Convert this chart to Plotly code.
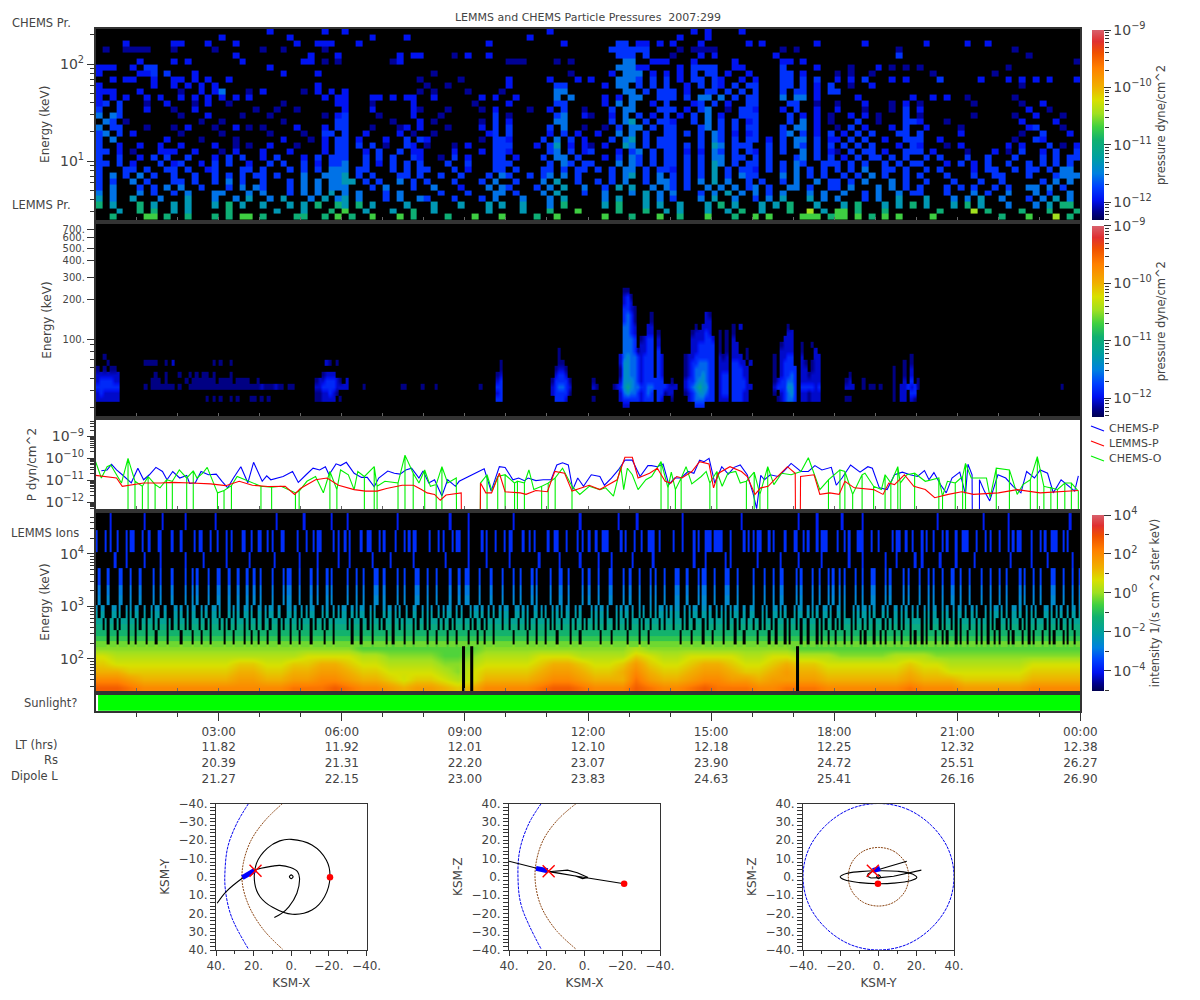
import math
import plotly.graph_objects as go

# ---------- text ----------
TITLE = "LEMMS and CHEMS Particle Pressures  2007:299"
TICK_HOURS = [3, 6, 9, 12, 15, 18, 21, 24]
TICK_TIME = ["03:00", "06:00", "09:00", "12:00", "15:00", "18:00", "21:00", "00:00"]
LT_HRS = ["11.82", "11.92", "12.01", "12.10", "12.18", "12.25", "12.32", "12.38"]
RS = ["20.39", "21.31", "22.20", "23.07", "23.90", "24.72", "25.51", "26.27"]
DIPOLE_L = ["21.27", "22.15", "23.00", "23.83", "24.63", "25.41", "26.16", "26.90"]
MINOR_HOURS = [1, 2, 4, 5, 7, 8, 10, 11, 13, 14, 16, 17, 19, 20, 22, 23]

# ---------- CHEMS pressure panel: 10-minute columns, rows top to bottom ----------
CHEMS_ENERGY = [216, 187, 162, 141, 122, 106, 92.2, 80, 69.4, 60.2, 52.2, 45.3, 39.3, 34.1, 29.6, 25.69,
                22.29, 19.34, 16.78, 14.56, 12.63, 10.96, 9.51, 8.25, 7.16, 6.21, 5.39, 4.68, 4.06, 3.52, 3.05, 2.65]
CHEMS_LEVEL_Z = [None, -12.15, -11.95, -11.8, -11.55, -11.3, -10.95, -10.7, -10.45]
CHEMS_ROWS = [
 "............ ............ .2.......2.. 2........... ............ ......2..... ............ ...2.2....2. ............ ............ ............ ............",
 "............ ......2..... ....2....... ....2....2.. ............ ...2........ ............ .2...2...... ............ ............ ............ ............",
 "....2......2 2...2...2... .....2..222. ..2......... .........2.. ........2... ....33.22.2. 2...2......2 .2.......2.. ....2....... .2.....2..2. ............",
 ".1..1111...1 .....1...... 1..1.....1.. ............ ............ ............ ...333333... .1.1111..... ....1.1..... .........1.. ............ ..1.........",
 "............ ........2... .......2...2 ........2.22 ....1.2..2.. ............ ....333.3... 1...2.2..... ...2........ .........3.. ............ ....1.......",
 "......2....2 .2.......2.. ......22.1.1 .......12... ............ 111....1.1.. .....44..222 ...2.....2.. ....22.2.... ............ ............ ...........1",
 "222..2.33... ............ .2.......... ............ ............ ............ ....44422... .2.3333..22. ....3....2.. ..1...2.1.1. 1........... .1..........",
 "2.....223.3. ..2......... ...2....2... ............ .1.......... .........1.. ...2.444.2.2 .2.3.33.2..2 ....33.2.... 1.1..1...... ..1........1 ............",
 "..2.22..2..2 2.2.2..2.... ............ ...........1 .....1...... 2.....2...2. 2...4443.3.3 .2.33.32..2. 2...33.3.3.. 2.2.3...2.2. ...3.....2.. .2.2.2.2...2",
 "2.......2..2 .2.2.2...... ........2... ............ 1..1........ 2......33... ..2.44.3.3.3 ..2.3.32.3.3 3...33.3.2.3 ..1..2...... ............ ...1........",
 "222...2..... 1..2.24...1. 2.....1.2.2. 2..........1 .1....1....1 .......44... .....44.3.33 3.2..33.3.3. 3...3.33.2.3 3........... ............ ............",
 "2.2.2..2.2.. 2.2.2.2.2.2. .........2.2 2...22.2.22. .2......2.2. .2.....4.4.. ..2.2.44..33 3.3.44.4.3.3 3...4.44.2.. ...2.......2 ..2.2..1.... ..1.........",
 "23.3...1..2. ..1.2..1.... ...1.......2 2...1.....2. .......1.... 2......33... ..2.4.4..2.3 ...23.3.2..3 3....33..1.. 1...2...1.2. 1.......1... ...1..2.....",
 "3..3...2...1 ..2........1 ..1..1...... 2...2.....21 ...1....1.2. ...1..2.3..1 ...3.44...33 3.2.34..1.33 2...2.3..2.. 2...1...1.3. 2........... ....2..1....",
 "4.43........ 1...2....1.. .1.......1.2 3....1....2. ..1.......3. 1......34..2 1..2.4.3.2.3 .2.3.4.2..33 3....3.2.2.1 ..2.2.1...3. 1.......1... ..1..2...1..",
 ".43.1....... ...1..1..... ...1.......3 3......1...2 .1......1.3. 2......44... ...3.45.3.33 2..3.4.3.3.2 3....3.4.2.1 ...3..1...33 2...1....... ...2....2...",
 "4.33...1...1 .2...1..2.1. 1....2...2.3 3...1...12.2 ...1....2.3. 3.....3.4..1 ..1.3.44.3.3 3...34.3.3.3 3...3.44.2.. 1.3.2...2.3. .2....1..... ....23...1..",
 "34.3.2...... 1.....1..... .1....1..33. 3..2....2.1. .1.......23. 3.....2.3.2. .2..4.4.3..3 3.3.3.43.2.2 3...34.3.2.3 .2.3.3...33. 3.....2..... ...1..3...2.",
 "3.4.......2. ...1....1... ...2...1.2.3 3.2...2..3.3 2.......1.33 2....3.4.3.2 ...3.45.3.33 3...3.43.3.3 3.2.3.44.3.2 2.3.3..2..33 3..2........ ..1..32.....",
 "3..2..2..2.. 2....2..1.1. .2...1...2.3 3.3.3.1..32. 1...1.2...33 3...2.35.2.2 1.2..54.3.33 3.3.3.54.333 ..3.3.43.3.3 .3.3.3...2.3 2...1.2..... .2.2...3.1.2",
 "33.2.1...222 ..2...1.2... 2...2....2.3 3..2.3..3.22 ....2...2.33 2.....34.3.2 3...2.34.3.3 3.2.2.43.3.3 2.3.3..4.3.2 1.3.33.2..33 3.2....1...2 .1.3..2.3..3",
 "3..3..2.3.3. .3...2.3.3.. 2.3...2.3.33 3..3.3.3..32 ..1.3.2...33 .2...3.44.3. ..2.3.43.3.3 3.3.3.44.33. 3.3...34.3.3 .2.3.33.3.3. .3.3...3..3. ..3...3.3.33",
 "33.3.2...3.2 3..2.3.3..2. .3.3..3.2.33 4..3.2.3.3.3 ...3..3...33 3.....3.43.3 3...4.43.3.3 3.3.3.54.3.3 3.3.3.43..33 3.3.3..3.3.3 3...2.3.2.3. .3..3.3.3.3.",
 "3...33.3..33 .3..23...33. 3...3.3.3.44 4.33...3.3.3 3...3.2...33 .3...33.3.33 .3.3.44.3.33 2.3.3.5.3.33 2.3.3.4.3.3. 3.3.4..33.3. .3.3....2.33 ..3.33.3.44.",
 "3.4.3.4.3..3 ..3..3.3.3.3 3.3...4..444 5.3.3...33.3 ..3..3...3.4 3..3.34.4.3. ...3.45.3.4. 3.3.3.5.3.43 3...4.4.3.3. .3.3.4.3..3. 3...3...3..3 3...3...3444",
 "3.3..4.3...3 3.3..3.4.3.. 3...3.4.4.44 55.3.3..4.3. 3...3...3.4. .3...4.5..3. .3.3.4..3.44 3.3.4.5.4..3 .3..3.4..4.3 3.3.4...4.3. .3...3...3.. 3.....3.4.4.",
 "3.4...3.3.4. 4..3...3.4.4 3...3.4.4.44 4...3.4...3. .4...2...4.4 3...3.4.5..4 ..3.5.5..4.4 3.3..4.4.4.3 4.3..44.3..3 3.4...4.4.3. 3...3.3.3..3 .3..44.4.3..",
 "4.4...4.3..3 .4...44...4. 4...3.4.4.5. 4.4...3.4... ..3...3...44 .3...4.5...3 ..4...4.5.4. 4...3.4.5.4. 4.3.4...4.4. .4..3.4..4.3 3...3...4.3. .4...4.3..4.",
 "5.4..5...4.. .5...4..4.5. .4.5...4.5.4 5.4...3.4..4 3...3...3.4. ..4...4.5... ..4.5...5.4. 3...4.5..4.. 3.4.5...5.4. 4...3.4..5.. .5...4.4.5.. 4...3.4.5.4.",
 "6.5...6.5..5 .5...5.6.5.. 5...5.5.6..6 5.6.5....5.. .5...5...5.5 ..5...4.6... ..5.6...5.5. .5...5.6.5.. .5.5.6...5.. .5.6...5.5.6 .5...5.6.5.. .4...4.5.66.",
 "...5..6.6..5 .5.....6.... ..5...5...6. 7..5...5..6. .5.......5.. ..5...6...7. ....6...6..5 .5...5..5.6. .5...6..8.5. 77.6...6.... ...6....8.6. ...6...6...6",
 "..6....77.6. .6...6.6.77. 6....66..6.7 .6..7...7.6. ...6...7...7 ....6..7.... ..7...6...7. .6...7...6.. 7.7....777.6 77.7.6.7.7.. ..7......... 6...7...8.6.",
]

# ---------- LEMMS pressure panel: 5-minute columns, bursts as (first column, {row: cells}) ----------
LEMMS_ENERGY = [235, 211, 190, 170.8, 153.5, 138, 124, 111.5, 100.3, 90.2, 81, 72.9, 65.5, 58.9, 53, 47.6, 42.8, 38.5, 34.6, 31.1]
LEMMS_LEVEL_Z = [None, -12.2, -12.05, -11.85, -11.6, -11.4, -11.15]
LEMMS_BURSTS = [
 (0, {11: "..1....", 12: "...1...", 13: "1.1.11.", 14: "2222222", 15: "2333322", 16: "3333333", 17: "2322222", 18: "2222222"}),
 (14, {12: "1111..1.2...........1.1..1", 14: "...1..1...1..1.1.11.1....1....", 15: "..111.1.....1.1111111.1111.1111..1",
       16: "1.1111111.1..1111111111111111111112111211.11", 18: "..................1.1.1..1.1...11.1.1"}),
 (64, {12: "...21.1...", 14: "..1222....", 15: "12233321.2", 16: "2233332222", 17: "1122321...", 18: "112222.1.."}),
 (78, {16: "1..........11....1...1............1"}),
 (117, {12: ".1", 13: ".1", 14: "12", 15: "23", 16: "33", 17: "23", 18: "33"}),
 (133, {10: "..1...", 11: "..1...", 12: "..11..", 13: ".1221.", 14: ".2332.", 15: "133331", 16: "234432", 17: "233331", 18: ".3332."}),
 (145, {15: "1", 16: "21", 18: "1"}),
 (151, {0: "...11....", 1: "...231...", 2: "...232...", 3: "...3321..", 4: "...3431..", 5: "...3431..", 6: "...4432..", 7: "...4432..",
        8: "...4443..", 9: "...4443..", 10: "...44431.", 11: "..245443.", 12: "..255443.", 13: "..155443.", 14: "..155443.",
        15: "..255543.", 16: "123565443", 17: "..245443.", 18: "..233333.", 19: "...22...."}),
 (159, {4: "...1....", 5: "...1....", 6: "..22....", 7: "..22.1..", 8: "1233.2..", 9: "2233.2..", 10: "2233.3..", 11: "2333.32.",
        12: "2333.32.", 13: "2333.32.", 14: "2333.32.", 15: "2333333.", 16: "33443333", 17: "2343.331", 18: "2333.32."}),
 (167, {15: ".1", 16: "222", 17: "22", 18: ".1"}),
 (172, {4: "......21.", 5: "......22.", 6: "...1.222.", 7: "..122232.", 8: "..2222332", 9: "..2233333", 10: "..2233333",
        11: "122333333", 12: "123344433", 13: "123444433", 14: "123445433", 15: "233455433", 16: "234565533", 17: "123455433",
        18: ".23444333", 19: "...333..."}),
 (182, {6: "....1.2...", 7: "1.1.1.....", 8: "1.1.2.....", 9: "1.1.22....", 10: "1.1.22..1.", 11: "212.222.1.", 12: "222.3322.2",
        13: "222.33322.", 14: "233.33322.", 15: "233.33332.", 16: "233.333322", 17: "233.33322.", 18: "222.33322."}),
 (198, {6: "....1..", 7: "....22.", 8: "...222.", 9: "..1222.", 10: "..2222.", 11: "1.2233.", 12: "1.2333.", 13: "1.23333",
        14: "1.23343", 15: "1233443", 16: "2333553", 17: "1.23453", 18: ".123443"}),
 (206, {9: "1..1..", 10: "1...2.", 11: "2...22", 12: "21.122", 13: "22.122", 14: "221222", 15: "222222", 16: "333323", 17: "221222", 18: "221222"}),
 (219, {14: ".1", 15: "12", 16: "222", 18: "11"}),
 (224, {15: "1..", 16: "1.11.1"}),
 (233, {11: ".....1..", 12: "...1.1..", 13: "1..1.2..", 14: "1..1.2..", 15: "1..2.3.1", 16: "1.223231", 17: "1.22.33.", 18: "1.22.21."}),
 (282, {16: "1"}),
]

# ---------- pressure time series: (hour, log10 pressure) readings ----------
CHEMS_P_T = [0.14,0.28,0.39,0.51,0.65,0.87,1.03,1.17,1.31,1.47,1.63,1.74,1.88,2.05,2.22,2.29,2.43,2.57,2.75,2.94,3.08,3.22,3.36,3.54,3.71,3.85,4.06,4.17,4.27,4.38,4.57,4.80,4.94,5.13,5.30,5.46,5.60,5.69,5.86,5.97,6.11,6.30,6.48,6.62,6.79,6.90,7.12,7.28,7.42,7.56,7.70,7.88,7.98,8.12,8.26,8.44,8.58,8.77,8.86,9.47,9.64,9.84,9.98,10.17,10.31,10.45,10.54,10.73,10.91,11.10,11.24,11.38,11.52,11.63,11.75,11.89,12.08,
 12.29,12.40,12.57,12.74,12.90,13.08,13.27,13.46,13.55,13.69,13.83,13.97,14.11,14.27,14.44,14.58,14.72,14.83,14.95,15.09,15.26,15.42,15.56,15.71,15.88,16.02,16.11,16.21,16.30,16.44,16.63,16.77,16.95,17.19,17.37,17.53,17.70,17.93,18.05,18.19,18.40,18.63,18.82,18.93,19.10,19.29,19.47,19.66,19.85,20.03,20.20,20.31,20.43,20.59,20.73,20.87,21.06,21.20,21.26,21.36,21.37,21.54,21.54,21.66,21.79,21.99,22.18,22.36,22.55,22.69,22.88,23.02,23.20,23.34,23.53,23.67,23.86,23.95]
CHEMS_P_LOG = [-10.57,-10.53,-10.27,-10.53,-10.75,-11.12,-10.45,-10.98,-10.75,-10.41,-10.60,-10.98,-10.60,-10.90,-10.78,-11.15,-11.12,-10.60,-10.75,-10.72,-11.05,-11.35,-10.90,-10.38,-11.12,-10.18,-11.05,-10.80,-10.98,-10.93,-10.83,-10.60,-11.10,-10.75,-10.45,-10.53,-10.38,-10.75,-10.25,-10.33,-10.18,-10.68,-10.87,-10.87,-11.30,-10.90,-10.58,-10.68,-10.72,-10.53,-10.45,-10.90,-10.58,-11.13,-10.98,-11.72,-10.98,-11.28,-11.05,-10.48,-11.50,-10.38,-10.42,-10.98,-10.90,-11.02,-10.90,-11.02,-10.98,-10.98,-10.30,-10.20,-10.30,-11.43,-10.90,-11.28,-10.75,
 -10.83,-11.23,-10.90,-10.53,-10.08,-10.08,-10.83,-10.33,-10.33,-10.38,-10.26,-11.20,-10.90,-10.90,-10.60,-10.68,-10.08,-10.15,-10.00,-11.13,-10.38,-10.72,-10.41,-10.30,-10.75,-11.58,-12.30,-10.78,-10.98,-10.75,-10.83,-10.60,-10.23,-10.60,-10.60,-10.33,-10.53,-10.41,-11.23,-10.90,-10.30,-10.63,-10.38,-10.45,-11.35,-11.43,-10.75,-10.63,-10.75,-10.83,-10.56,-10.98,-10.65,-11.20,-11.58,-10.90,-10.63,-11.65,-10.27,-10.75,-14,-14,-10.98,-11.50,-11.95,-10.75,-10.90,-11.28,-11.58,-10.60,-10.90,-10.53,-10.68,-11.58,-10.98,-11.20,-11.50,-10.80]

LEMMS_P_T = [0.00,0.28,0.51,0.65,0.89,1.17,1.59,1.87,2.33,2.80,3.17,3.50,3.82,4.20,4.62,4.85,4.99,5.36,5.64,5.92,6.30,6.58,6.86,7.09,7.47,7.75,7.94,8.08,8.26,8.40,8.54,8.86,8.91,8.92,9.37,9.38,9.51,9.65,9.84,9.98,10.35,10.49,10.73,11.01,11.19,11.43,11.61,12.03,12.29,
 12.43,12.71,12.90,13.08,13.22,13.50,13.69,13.88,14.02,14.16,14.29,14.53,14.72,14.95,15.06,15.18,15.46,15.74,15.88,16.07,16.21,16.39,16.58,16.86,17.05,17.06,17.17,17.18,17.51,17.65,17.89,18.12,18.26,18.49,18.96,19.19,19.33,19.47,19.71,19.94,20.22,20.45,20.78,21.11,21.39,22.00,22.46,23.02,23.95]
LEMMS_P_LOG = [-10.78,-10.86,-10.90,-11.28,-11.20,-11.13,-11.13,-11.10,-11.13,-11.17,-11.25,-11.05,-11.23,-11.29,-11.28,-11.65,-11.38,-10.98,-10.90,-11.23,-11.43,-11.50,-11.50,-11.38,-11.23,-11.23,-11.43,-11.58,-11.65,-11.92,-11.68,-11.58,-11.58,-14,-14,-11.13,-11.58,-11.58,-10.68,-11.53,-11.58,-11.65,-11.47,-11.53,-10.60,-10.68,-11.50,-11.23,-11.43,
 -11.28,-10.98,-9.95,-9.95,-10.90,-10.68,-10.45,-11.05,-11.13,-10.83,-10.90,-10.60,-10.15,-10.26,-11.35,-10.68,-10.38,-10.60,-10.83,-11.65,-11.35,-11.28,-10.90,-10.38,-10.68,-14,-14,-10.83,-10.75,-11.65,-11.58,-11.65,-11.05,-11.35,-11.43,-11.65,-11.13,-11.20,-10.75,-11.28,-11.43,-11.80,-11.65,-11.53,-11.65,-11.58,-11.43,-11.58,-11.47]

CHEMS_O_T = [0.00,0.14,0.28,0.37,0.51,0.63,0.79,0.96,1.14,1.28,1.45,1.57,1.73,1.87,2.04,2.22,2.38,2.47,2.61,2.72,2.97,3.13,3.31,3.45,3.64,3.82,4.03,4.29,4.52,4.87,4.96,5.15,5.36,5.55,5.71,5.88,5.97,6.16,6.30,6.39,6.55,6.79,6.86,7.05,7.37,7.54,7.74,7.88,8.02,8.16,8.30,8.44,8.58,8.79,8.80,9.37,9.38,9.54,9.66,9.80,9.98,10.21,10.28,10.45,10.56,10.68,10.87,11.03,11.20,11.38,11.61,11.80,12.03,
 12.29,12.43,12.62,12.80,12.87,12.96,13.08,13.22,13.41,13.55,13.78,13.95,14.03,14.13,14.27,14.39,14.53,14.76,14.88,14.97,15.14,15.27,15.41,15.60,15.71,15.86,16.05,16.19,16.38,16.53,16.72,16.95,17.19,17.37,17.51,17.65,17.86,18.14,18.26,18.45,18.68,18.75,18.96,19.15,19.24,19.38,19.55,19.61,19.77,19.96,20.22,20.55,20.64,20.76,20.95,21.13,21.20,21.34,21.71,21.80,21.95,22.27,22.46,22.60,22.78,22.95,23.11,23.28,23.44,23.62,23.78,23.95]
CHEMS_O_LOG = [-10.15,-10.90,-10.38,-10.30,-10.75,-11.13,-10.00,-11.05,-11.28,-10.83,-11.20,-11.35,-10.98,-11.05,-10.53,-10.90,-10.57,-10.90,-10.68,-10.41,-11.58,-11.47,-11.25,-10.83,-10.98,-11.13,-11.28,-11.32,-11.28,-11.58,-11.50,-11.05,-10.83,-11.58,-10.60,-11.43,-10.53,-10.75,-11.43,-10.60,-10.83,-10.38,-11.28,-11.05,-11.13,-9.85,-10.68,-11.13,-10.53,-11.28,-11.20,-10.38,-11.13,-10.90,-14,-14,-11.13,-10.75,-11.50,-10.83,-10.75,-11.13,-11.05,-11.13,-10.53,-11.43,-11.28,-11.13,-10.90,-10.45,-11.28,-11.65,-11.28,
 -11.43,-11.35,-11.73,-10.38,-11.43,-10.45,-10.75,-11.43,-10.98,-10.83,-10.15,-11.35,-10.63,-11.43,-10.90,-10.38,-11.17,-10.83,-10.60,-11.13,-10.60,-11.28,-10.68,-10.60,-11.13,-11.05,-10.63,-11.65,-10.38,-11.20,-10.68,-10.75,-10.60,-9.97,-10.68,-11.43,-10.98,-10.53,-10.60,-11.65,-10.75,-10.68,-11.28,-11.43,-10.75,-11.13,-10.38,-11.13,-10.75,-10.68,-11.05,-10.90,-11.73,-11.05,-11.13,-10.83,-10.23,-10.90,-10.90,-11.80,-10.45,-10.53,-11.65,-11.20,-10.98,-9.92,-11.28,-11.35,-11.43,-11.13,-11.13,-11.50]
CHEMS_O_DROP_T = [0.79,0.96,1.14,1.28,1.45,1.73,1.87,2.22,2.38,2.97,3.13,3.31,4.03,4.29,4.87,4.96,5.71,5.88,6.55,6.79,6.86,7.37,7.54,7.74,8.02,8.30,8.44,9.54,9.80,9.98,10.21,10.28,10.45,10.87,11.03,11.20,11.61,
 13.78,13.95,14.13,14.27,14.97,15.14,15.86,16.05,16.19,16.38,17.86,18.14,18.26,18.45,18.68,18.96,19.24,19.38,19.55,19.61,19.96,20.55,20.64,20.95,21.13,21.20,21.95,22.27,22.78,22.95,23.11,23.28,23.44,23.62,23.78,23.95]

# ---------- LEMMS ions: 200 s columns (36 per 2 h), sparse upper channels, top channel first ----------
ION_ROWS = [
 "......1..............1.......1...... ...1............1................... .......1...........1...........1... ..1.....................1........... ...........1.......1................ ...1............................1... .............1.......1.............. .....1.........................1.... ....................1.......1....... ...1........1....................... .........1...................1...... ....1..........................1....",
 "1...1.1..1...1.11...1..1...11....1.. .1.....1.11...1..1...1.1....11..1..1 1..1.1...11.....1...1..1.11.....1.1. .1.1....1..11...1.1....1...1.1.11... ..1...1.1...1.11...1.....1.1...1...1 .11....1..1.1.....1..11...1....1.1.. 1..1..111.....1.1...1..1..111..1.... .1...1....1.1..111.1111...1.....1.1. 1.11...1.1....1...11..1.1...1.111... .1..1.1...111...1..1.....1.11..1..1. ..1.1..1...1.1...1..111...1...1.1... 1...1.1.11....1...1.1..111..1.1.....",
 "........1....1.......1......1....... ...1.......1.........1.........1.... ......1..........1.......1........1. ...1.........1.......1.........1.... .........1.........1.......1........ .1............1........1........1... ....1.....1........1........1....... ..........1....1........1.1......... ..1.........1.......1.........1..... ......1.....1.........1....1.......1 ..1.......1......1.......1.......... .....1........1......1..........1...",
 ".1...1....11...1...1.....1..1....1.. ...1..1.1....1...11...1...1...1..1.. 1....1....1.11...1....1..1...1.1.... ..1...1..1....11..1.....1..1....11.. .1...1.....1...1..11....1....1....1. ...1..1....1.1.....1...11..1.....1.. 1...1....11....1..1...1....1.1...1.. ..11...1....1.11...1....11...1...... 1....1...1..11.....1.1....1..1...1.1 ..1.1....1..1...11....1.1.....1.1... .1...1.1...1...11..1...1....1...1... 1..1.....1.1...1..1....11...1...1..1",
 "1.11...11.1..1.1.11..1..1.11..1...11 .1..1.11..1.1..11.1...1.1.1..11.1..1 1.1.11..1...11.1..1.1.11...1.1..1.1. 11..1.1.11..1.1...1.11.1.1..1..11..1 .1.1..1.1.11..1.1...1.11.1..1.1..1.1 1...11.1.1..11.1.1..1.1.1.11..1.1... .1.1.11.1...1.1.11.1..1.1..1.1.11.1. 1.11..1.1.11..11.1..1.1.1.1.11..1..1 1...1.1..11.1.1...1.11..1.1.1..11.1. .11.1...1.1.11.1.1...1.1..11.1.1..1. 1..1.1.11..1.1..1.11.1..1.1...1.1.11 .1.1..11.1..1.1.1...11.1.1.1..1.11.1",
 "111.1.11.1.111.11.1.11.11.1.111.1.11 .11.1.111.11.1.111.1.1.11.111.1.11.1 1.11.111.1.11.11.1.111.1.11.1.11.111 11.1.111.11.1.11.1.111.11.1.111.1.11 .1.111.1.11.1.111.11.1.11.1.11.111.1 1.111.11.1.11.111.1.1.11.111.1.11.1. 11.1.11.111.1.11.1.111.1.11.111.1.11 1.111.1.11.111.1.11.111.1.11.1.11.11 .11.1.11.1.111.1.11.1.11.111.1.1.11. 1.1.111.1.11.1.11.111.1.1.11.1.11.11 11.1.1.111.1.11.1.1.111.11.1.11.1.1. .11.1.111.1.1.11.111.1.11.1.11.1.111",
 "11111.111.1111.11.1111.111.1111.1111 1.1111.111.111.11111.111.1111.11.11 111.1111.1111.111.1111.11111.111.111 1111.111.1111.11111.11.1111.111.1111 1.111.1111.111.1111.111.11.111.11111 111.11111.111.111.1111.11111.111.111 11111.1111.111111.1111.111.111111111 1111.1111.1111.111.1111.1111.111.111 11.1111.11.111.1.1111.11.111.1.11.11 .111.11.111.1.111.11.1.111.11.111.1. 11.1.111.11.1.111.1.11.111.1.11.11.1 .111.1.111.11.1.111.11.1.111.1.11.11",
]
ION_BAND_EDGES = [169, 215, 270, 356, 465, 604, 800, 1069, 1650, 2570, 5408, 10970, 28600, 60000]
ION_BAND_Z = [-0.3, -0.8, -1.2, -1.5, -1.9, -2.1, -2.4, -2.6, -2.9, -3.5, -3.75, -3.7, -3.9]
ION_BAND_ROW = [6, 6, 6, 5, 5, 4, 4, 3, 3, 3, 2, 1, 0]

# smooth lower part of the ion spectrogram: 20-minute columns, lowest energy row first
ION_LOW_ENERGY = [29.3, 41.6, 59, 84, 119, 162]
ION_LOW_LEVEL_Z = [-0.5, -0.14, 0.22, 0.58, 0.94, 1.3, 1.66, 2.02, 2.38, 2.74]
ION_LOW_ROWS = [
 "998777 777777 778889 877656 654577 778998 777987 789888 778887 777778 777666 667777",
 "776555 555566 556677 655434 432355 556776 555865 567766 566665 555556 555444 445555",
 "554444 444455 445566 544333 321344 445665 445754 456654 456554 444445 443333 334444",
 "433333 333344 334455 433222 211233 334554 334643 345543 345443 333334 332222 223333",
 "322222 222222 222333 322111 100122 223332 222432 233332 233222 111122 211111 111111",
 "111111 111111 111111 100000 000011 111111 111211 111111 111000 000000 000000 000000",
]
ION_GAP_START = [8.93, 9.13, 17.07]
ION_GAP_END = [9.00, 9.20, 17.14]
ION_GAP_TOP = 175
SUN_START = 0.06
SUN_FLAG = [[1]]

# ---------- orbit panels ----------
BOW_XY_X = [22.7, 29, 33.7, 35.2, 35, 31.8, 22.7]
BOW_XY_Y = [-40, -29, -16.4, -3.6, 7.3, 21.8, 39.6]
MP_XY_X = [4.6, 13.7, 21.3, 25.5, 26, 22.3, 14.7, 4.6]
MP_XY_Y = [-40, -31, -20, -7.3, 3.6, 16.4, 29, 39.6]
ORBIT_XY_X = [39.4, 34.7, 25.5, 19.4, 9.9, 6.1, 0.4, -3.4, -4.4, -3, 1.3, 5.1, 9]
ORBIT_XY_Y = [14.5, 8.2, 0.4, -3.6, -5.8, -6.2, -5, -2.7, 0.9, 9, 16.4, 20, 22.2]
LOOP_XY_X = [0, -11, -18.7, -20.6, -17.7, -11, -0.6, 9.9, 16.6, 19.4, 18.5, 12.8, 6.1, 0]
LOOP_XY_Y = [-20.4, -17.3, -9, 0, 10.9, 18.2, 20.5, 16.7, 10.9, 3.6, -7.3, -15.5, -19.6, -20.4]
SATURN_A = [1, 0, -1, 0, 1]
SATURN_B = [0, -1, 0, 1, 0]
BOW_XZ_X = [22.9, 29.5, 34.3, 35.2, 33.3, 22.9]
BOW_XZ_Z = [40, 29, 14.5, -1.8, -16.4, -39.6]
MP_XZ_X = [4.4, 14.3, 21.9, 25.7, 26, 22.9, 15.2, 4.4]
MP_XZ_Z = [40, 31, 20, 7.3, -3.6, -16.4, -29, -39.6]
ORBIT_XZ_X = [40, 25.7, 19, 4.8, -21, 0, 19, 9, 3.8, -1.9, 1, 4.8]
ORBIT_XZ_Z = [8.5, 4.5, 3, 0.4, -3.8, -0.4, 2.7, 3.6, 2.2, -0.4, -1, 0.4]
BOW_YZ_Y = [0, 15, 28, 37, 40, 37, 28, 15, 0, -15, -28, -37, -40, -37, -28, -15, 0]
BOW_YZ_Z = [40, 37, 28, 15, 0, -15, -28, -37, -40, -37, -28, -15, 0, 15, 28, 37, 40]
MP_YZ_Y = [0, 8, 14, 16, 14, 8, 0, -8, -14, -16, -14, -8, 0]
MP_YZ_Z = [16, 14, 8, 0, -8, -14, -16, -14, -8, 0, 8, 14, 16]
ORBIT_YZ_Y = [0, -10, -18, -20.3, -17, -10, 0, 10, 18, 20.3, 17, 8, 0]
ORBIT_YZ_Z = [-3.8, -3.2, -1.7, 0, 1.8, 2.8, 3.3, 3, 1.5, -0.5, -2.2, -3.5, -3.8]
SPUR_YZ_Y = [15, 0, -3, -5.5, -6, -4, 1, 8, 15, 22.7]
SPUR_YZ_Z = [8.5, 4, 3, 1.5, 0.3, -0.7, -0.5, 0.3, 1.8, 3.6]
TODAY_XY_X, TODAY_XY_Y = [26, 19.5], [0.5, -3.4]
TODAY_XZ_X, TODAY_XZ_Z = [25.7, 19.5], [4.6, 3.3]
TODAY_YZ_Y, TODAY_YZ_Z = [0.8, -3], [4.5, 3.3]
NOW_XY, END_XY = (19, -3.3), (-20.6, 0.3)
NOW_XZ, END_XZ = (19, 3), (-21, -3.8)
NOW_YZ, END_YZ = (-3, 3.3), (-0.3, -3.8)
ORBIT_TICKS_Y = [-40, -30, -20, -10, 0, 10, 20, 30, 40]
ORBIT_TICK_TEXT = {v: (("\u2212" if v < 0 else "") + f"{abs(v)}.") for v in ORBIT_TICKS_Y}
ORBIT_TICKS_X = [-40, -20, 0, 20, 40]

# ---------- styling ----------
INK = "#444444"
FRAME = "#333333"
FONT = "DejaVu Sans"
SCALE = [[0, "#000050"], [0.045, "#000090"], [0.105, "#0010f0"], [0.175, "#0040ff"], [0.245, "#0080e0"], [0.33, "#00a0a0"],
         [0.42, "#10b070"], [0.49, "#40d040"], [0.56, "#a0e020"], [0.63, "#d8e000"], [0.70, "#f0b000"], [0.80, "#ff8000"],
         [0.88, "#f05000"], [0.94, "#e03030"], [1, "#d8606c"]]
MINOR_M = [2, 3, 4, 5, 6, 7, 8, 9]


def groups(row, size):
    return "".join(g.ljust(size, ".")[:size] for g in row.split())


def ydom(top, bottom):
    return [1 - bottom / 1000, 1 - top / 1000]


def sup(e):
    return f"10<sup>{str(e).replace('-', chr(0x2212))}</sup>"


def colorbar(top, bottom, title, labelled):
    return dict(x=1092 / 1200, xanchor="left", xpad=0, ypad=0, y=1 - bottom / 1000, yanchor="bottom",
                len=(bottom - top) / 1000, lenmode="fraction", thickness=12, outlinewidth=0,
                tickmode="array", tickvals=labelled, ticktext=[sup(e) for e in labelled], ticks="outside", ticklen=7, tickcolor=FRAME,
                tickfont=dict(size=14, color=INK, family=FONT),
                title=dict(text=title, side="right", font=dict(size=11.5, color=INK, family=FONT)))


fig = go.Figure()

# ----- CHEMS spectrogram -----
z1 = [[CHEMS_LEVEL_Z[int(c)] if c != "." else None for c in groups(r, 12)] for r in CHEMS_ROWS]
x1 = [(i + 0.5) / 6 for i in range(144)]
fig.add_trace(go.Heatmap(x=x1, y=CHEMS_ENERGY, z=z1, colorscale=SCALE, zmin=-12.31, zmax=-9, xaxis="x", yaxis="y",
                         colorbar=colorbar(30, 220, "pressure dyne/cm^2", [-12, -11, -10, -9]), name="CHEMS Pr."))

# ----- LEMMS spectrogram -----
z2 = [[None] * 288 for _ in LEMMS_ENERGY]
for start, cells in LEMMS_BURSTS:
    for row, text in cells.items():
        for k, c in enumerate(text):
            if c != ".":
                z2[row][start + k] = LEMMS_LEVEL_Z[int(c)]
x2 = [(i + 0.5) / 12 for i in range(288)]
fig.add_trace(go.Heatmap(x=x2, y=LEMMS_ENERGY, z=z2, colorscale=SCALE, zmin=-12.32, zmax=-9, zsmooth="best", xaxis="x2", yaxis="y2",
                         colorbar=colorbar(226, 416.7, "pressure dyne/cm^2", [-12, -11, -10, -9]), name="LEMMS Pr."))

# ----- pressure lines -----
drops = set(CHEMS_O_DROP_T)
ox, oy = [], []
for t, v in zip(CHEMS_O_T, CHEMS_O_LOG):
    ox.append(t); oy.append(10 ** v)
    if t in drops:
        ox += [t, t]; oy += [1e-14, 10 ** v]
fig.add_trace(go.Scatter(x=CHEMS_P_T, y=[10 ** v for v in CHEMS_P_LOG], mode="lines", line=dict(color="#0000ff", width=1.1),
                         xaxis="x3", yaxis="y3", name="CHEMS-P", showlegend=False))
fig.add_trace(go.Scatter(x=ox, y=oy, mode="lines", line=dict(color="#00f000", width=1.1),
                         xaxis="x3", yaxis="y3", name="CHEMS-O", showlegend=False))
fig.add_trace(go.Scatter(x=LEMMS_P_T, y=[10 ** v for v in LEMMS_P_LOG], mode="lines", line=dict(color="#ff0000", width=1.1),
                         xaxis="x3", yaxis="y3", name="LEMMS-P", showlegend=False))

# ----- LEMMS ions -----
zlow = [[ION_LOW_LEVEL_Z[int(c)] for c in r.replace(" ", "")] for r in ION_LOW_ROWS]
xlow = [(i + 0.5) / 3 for i in range(72)]
fig.add_trace(go.Heatmap(x=xlow, y=ION_LOW_ENERGY, z=zlow, colorscale=SCALE, zmin=-5.03, zmax=4, zsmooth="best",
                         xaxis="x4", yaxis="y4", showscale=False, name="LEMMS Ions low"))
ion_patterns = [groups(r, 36) for r in ION_ROWS]
x_ion = [(i + 0.5) / 18 for i in range(432)]
z_ion = [[level if c != "." else None for c in ion_patterns[idx]] for level, idx in zip(ION_BAND_Z, ION_BAND_ROW)]
fig.add_trace(go.Heatmap(x=x_ion, y=ION_BAND_EDGES, z=z_ion, colorscale=SCALE, zmin=-5.03, zmax=4,
                         xaxis="x4", yaxis="y4", name="LEMMS Ions",
                         colorbar=colorbar(515, 691, "intensity 1/(s cm^2 ster keV)", [-4, -2, 0, 2, 4])))
for a, b in zip(ION_GAP_START, ION_GAP_END):
    fig.add_trace(go.Heatmap(x=[a, b], y=[20, ION_GAP_TOP], z=[[0]], colorscale=[[0, "#000000"], [1, "#000000"]], showscale=False,
                             xaxis="x4", yaxis="y4", name="no data", hoverinfo="skip"))

# ----- sunlight bar -----
fig.add_trace(go.Heatmap(x=[SUN_START, 24], y=[0, 1], z=SUN_FLAG, colorscale=[[0, "#00ff00"], [1, "#00ff00"]], showscale=False,
                         xaxis="x5", yaxis="y5", name="Sunlight"))

# ----- orbit panels -----
def orbit_panel(xa, ya, bow, mp, paths, today, now, end):
    fig.add_trace(go.Scatter(x=bow[0], y=bow[1], mode="lines", line=dict(color="#0000ee", width=1, dash="3px,1px", shape="spline"),
                             xaxis=xa, yaxis=ya, showlegend=False, name="bow shock"))
    fig.add_trace(go.Scatter(x=mp[0], y=mp[1], mode="lines", line=dict(color="#8b4513", width=1, dash="2px,1px", shape="spline"),
                             xaxis=xa, yaxis=ya, showlegend=False, name="magnetopause"))
    for p, shape in paths:
        fig.add_trace(go.Scatter(x=p[0], y=p[1], mode="lines", line=dict(color="#000000", width=1.1, shape=shape),
                                 xaxis=xa, yaxis=ya, showlegend=False, name="trajectory"))
    fig.add_trace(go.Scatter(x=today[0], y=today[1], mode="lines", line=dict(color="#0000ff", width=5),
                             xaxis=xa, yaxis=ya, showlegend=False, name="day"))
    fig.add_trace(go.Scatter(x=[now[0]], y=[now[1]], mode="markers", marker=dict(symbol="x-thin", size=12, line=dict(color="#ff0000", width=1.4)),
                             xaxis=xa, yaxis=ya, showlegend=False, name="start"))
    fig.add_trace(go.Scatter(x=[end[0]], y=[end[1]], mode="markers", marker=dict(symbol="circle", size=6.5, color="#ff0000"),
                             xaxis=xa, yaxis=ya, showlegend=False, name="end"))


orbit_panel("x6", "y6", (BOW_XY_X, BOW_XY_Y), (MP_XY_X, MP_XY_Y),
            [((ORBIT_XY_X, ORBIT_XY_Y), "spline"), ((LOOP_XY_X, LOOP_XY_Y), "spline"), ((SATURN_A, SATURN_B), "spline")],
            (TODAY_XY_X, TODAY_XY_Y), NOW_XY, END_XY)
orbit_panel("x7", "y7", (BOW_XZ_X, BOW_XZ_Z), (MP_XZ_X, MP_XZ_Z),
            [((ORBIT_XZ_X, ORBIT_XZ_Z), "linear")], (TODAY_XZ_X, TODAY_XZ_Z), NOW_XZ, END_XZ)
orbit_panel("x8", "y8", (BOW_YZ_Y, BOW_YZ_Z), (MP_YZ_Y, MP_YZ_Z),
            [((ORBIT_YZ_Y, ORBIT_YZ_Z), "spline"), ((SPUR_YZ_Y, SPUR_YZ_Z), "linear"), ((SATURN_A, SATURN_B), "spline")],
            (TODAY_YZ_Y, TODAY_YZ_Z), NOW_YZ, END_YZ)

# ----- axes -----
tfont = dict(size=12, color=INK, family=FONT)
efont = dict(size=14, color=INK, family=FONT)
XDOM = [95.6 / 1200, 1080.4 / 1200]
frame = dict(showline=True, mirror=True, linecolor=FRAME, linewidth=1.5, showgrid=False, zeroline=False)
ALL_HOURS = sorted(TICK_HOURS + MINOR_HOURS)


def time_axis(anchor):
    return dict(frame, domain=XDOM, range=[0, 24], anchor=anchor, tickmode="array", tickvals=ALL_HOURS,
                ticks="inside", ticklen=3, tickcolor="#666666", showticklabels=False)


def log_axis(top, bottom, lo, hi, vals, text, minor, title, standoff, font=efont):
    return dict(frame, type="log", domain=ydom(top, bottom), range=[lo, hi], tickmode="array", tickvals=vals, ticktext=text,
                ticks="outside", ticklen=7, tickcolor=FRAME, tickfont=font,
                minor=dict(tickmode="array", tickvals=minor, ticks="outside", ticklen=4, tickcolor=FRAME),
                title=dict(text=title, font=dict(size=12, color=INK, family=FONT), standoff=standoff))


layout = dict(
    width=1200, height=1000, margin=dict(l=0, r=0, t=0, b=0, autoexpand=False), paper_bgcolor="white", plot_bgcolor="white",
    font=dict(family=FONT, color=INK), showlegend=False,
    title=dict(text=TITLE, x=588 / 1200, xanchor="center", y=1 - 17 / 1000, yanchor="middle", font=dict(size=11, color=INK, family=FONT)),
)
layout["xaxis"] = time_axis("y")
layout["xaxis2"] = time_axis("y2")
layout["xaxis3"] = time_axis("y3")
layout["xaxis4"] = time_axis("y4")
layout["xaxis5"] = dict(frame, domain=XDOM, range=[0, 24], anchor="y5", tickmode="array", tickvals=TICK_HOURS,
                        ticktext=[f"{a}<br>{b}<br>{c}<br>{d}" for a, b, c, d in zip(TICK_TIME, LT_HRS, RS, DIPOLE_L)],
                        ticks="outside", ticklen=9, tickcolor=FRAME, tickfont=dict(size=12, color=INK, family=FONT),
                        minor=dict(tickmode="array", tickvals=MINOR_HOURS, ticks="outside", ticklen=5, tickcolor=FRAME))
layout["yaxis"] = log_axis(28.5, 220, 0.392, 2.366, [10, 100], ["10<sup>1</sup>", "10<sup>2</sup>"],
                           [3, 4, 5, 6, 7, 8, 9, 20, 30, 40, 50, 60, 70, 80, 90, 200], "Energy (keV)", 8)
layout["yaxis"]["anchor"] = "x"
layout["yaxis2"] = log_axis(224, 416, 1.408, 2.885, [100, 200, 300, 400, 500, 600, 700],
                            ["100.", "200.", "300.", "400.", "500.", "600.", "700."], [30, 40, 50, 60, 70, 80, 90], "Energy (keV)", 8,
                            dict(size=10, color=INK, family=FONT))
layout["yaxis2"]["anchor"] = "x2"
p_major = [1e-12, 1e-11, 1e-10, 1e-9]
p_minor = [m * 10.0 ** e for e in (-13, -12, -11, -10, -9) for m in MINOR_M]
layout["yaxis3"] = log_axis(420, 509, -12.32, -8.24, p_major, [sup(-12), sup(-11), sup(-10), sup(-9)], p_minor, "P dyn/cm^2", 6)
layout["yaxis3"]["anchor"] = "x3"
layout["yaxis4"] = log_axis(513, 691, 1.39, 4.78, [100, 1000, 10000], ["10<sup>2</sup>", "10<sup>3</sup>", "10<sup>4</sup>"],
                            [30, 40, 50, 60, 70, 80, 90, 200, 300, 400, 500, 600, 700, 800, 900, 2000, 3000, 4000, 5000, 6000, 7000, 8000, 9000,
                             20000, 30000, 40000, 50000], "Energy (keV)", 8)
layout["yaxis4"]["anchor"] = "x4"
layout["yaxis5"] = dict(frame, domain=ydom(695, 710.7), range=[0, 1], anchor="x5", showticklabels=False, ticks="")


def orbit_axes(n, left, right, xrange, yrange, xtitle, ytitle):
    thin = dict(showline=True, mirror=True, linecolor=FRAME, linewidth=1, showgrid=False, zeroline=False)
    layout[f"xaxis{n}"] = dict(thin, domain=[left / 1200, right / 1200], range=xrange, anchor=f"y{n}", tickmode="array", tickvals=ORBIT_TICKS_X,
                               ticktext=[ORBIT_TICK_TEXT[v] for v in ORBIT_TICKS_X], ticks="outside", ticklen=5, tickcolor=FRAME, tickfont=tfont,
                               minor=dict(tickmode="array", tickvals=[-30, -10, 10, 30], ticks="outside", ticklen=3, tickcolor=FRAME),
                               title=dict(text=xtitle, font=tfont, standoff=6))
    layout[f"yaxis{n}"] = dict(thin, domain=ydom(803.5, 950), range=yrange, anchor=f"x{n}", tickmode="array", tickvals=ORBIT_TICKS_Y,
                               ticktext=[ORBIT_TICK_TEXT[v] for v in ORBIT_TICKS_Y], ticks="outside", ticklen=5, tickcolor=FRAME, tickfont=tfont,
                               minor=dict(tickmode="array", tickvals=[v for v in range(-40, 41) if v % 10 != 0 and v % 2 == 0], ticks="outside", ticklen=5, tickcolor=FRAME),
                               title=dict(text=ytitle, font=tfont, standoff=6))


orbit_axes(6, 216, 366.5, [40, -40], [40, -40], "KSM-X", "KSM-Y")
orbit_axes(7, 509, 660, [40, -40], [-40, 40], "KSM-X", "KSM-Z")
orbit_axes(8, 803, 954, [-40, 40], [-40, 40], "KSM-Y", "KSM-Z")

# short ticks beside the colour bars, on axes of their own
def bar_ticks(n, top, bottom, lo, hi, vals):
    fig.add_trace(go.Scatter(x=[0], y=[lo], mode="markers", marker=dict(opacity=0), xaxis=f"x{n}", yaxis=f"y{n}", showlegend=False, hoverinfo="skip"))
    layout[f"xaxis{n}"] = dict(domain=[1092 / 1200, 1104 / 1200], range=[0, 1], visible=False, anchor=f"y{n}")
    layout[f"yaxis{n}"] = dict(domain=ydom(top, bottom), range=[lo, hi], anchor=f"x{n}", side="right", showline=False, showgrid=False, zeroline=False,
                               tickmode="array", tickvals=vals, ticks="outside", ticklen=4, tickcolor=FRAME, showticklabels=False)


PRESSURE_MINOR = [e + math.log10(m) for e in (-13, -12, -11, -10) for m in MINOR_M]
bar_ticks(9, 30, 220, -12.31, -9, PRESSURE_MINOR)
bar_ticks(10, 226, 416.7, -12.32, -9, PRESSURE_MINOR)
bar_ticks(11, 515, 691, -5.03, 4, [-5, -3, -1, 1, 3])

# black spectrogram backgrounds
shapes = [dict(type="rect", xref=f"{x} domain", yref=f"{y} domain", x0=0, x1=1, y0=0, y1=1, fillcolor="black", line_width=0, layer="below")
          for x, y in (("x", "y"), ("x2", "y2"), ("x4", "y4"))]

# legend samples and side labels
LEGEND_NAMES = ["CHEMS-P", "LEMMS-P", "CHEMS-O"]
LEGEND_COLORS = ["#0000ff", "#ff0000", "#00f000"]
annotations = []
for i, (name, col) in enumerate(zip(LEGEND_NAMES, LEGEND_COLORS)):
    yy = 428.5 + 15 * i
    shapes.append(dict(type="line", xref="paper", yref="paper", x0=1091 / 1200, x1=1104 / 1200, y0=1 - (yy - 2.5) / 1000, y1=1 - (yy + 2.5) / 1000,
                       line=dict(color=col, width=1.2)))
    annotations.append(dict(text=name, xref="paper", yref="paper", x=1107 / 1200, y=1 - yy / 1000, xanchor="left", yanchor="middle",
                            showarrow=False, font=dict(size=11, color=INK, family=FONT)))
SIDE_LABELS = [("CHEMS Pr.", 10, 23, "left"), ("LEMMS Pr.", 10, 205, "left"), ("LEMMS Ions", 9, 533, "left"), ("Sunlight?", 79, 703, "right"),
               ("LT (hrs)", 60, 744.5, "right"), ("Rs", 60, 760, "right"), ("Dipole L", 60, 775.5, "right")]
for text, px, py, anchor in SIDE_LABELS:
    annotations.append(dict(text=text, xref="paper", yref="paper", x=px / 1200, y=1 - py / 1000, xanchor=anchor, yanchor="middle",
                            showarrow=False, font=dict(size=11.5, color=INK, family=FONT)))
layout["shapes"] = shapes
layout["annotations"] = annotations

fig.update_layout(**layout)
fig.write_html("out.html", config={"displayModeBar": False}, post_script="document.body.style.margin='0';")
